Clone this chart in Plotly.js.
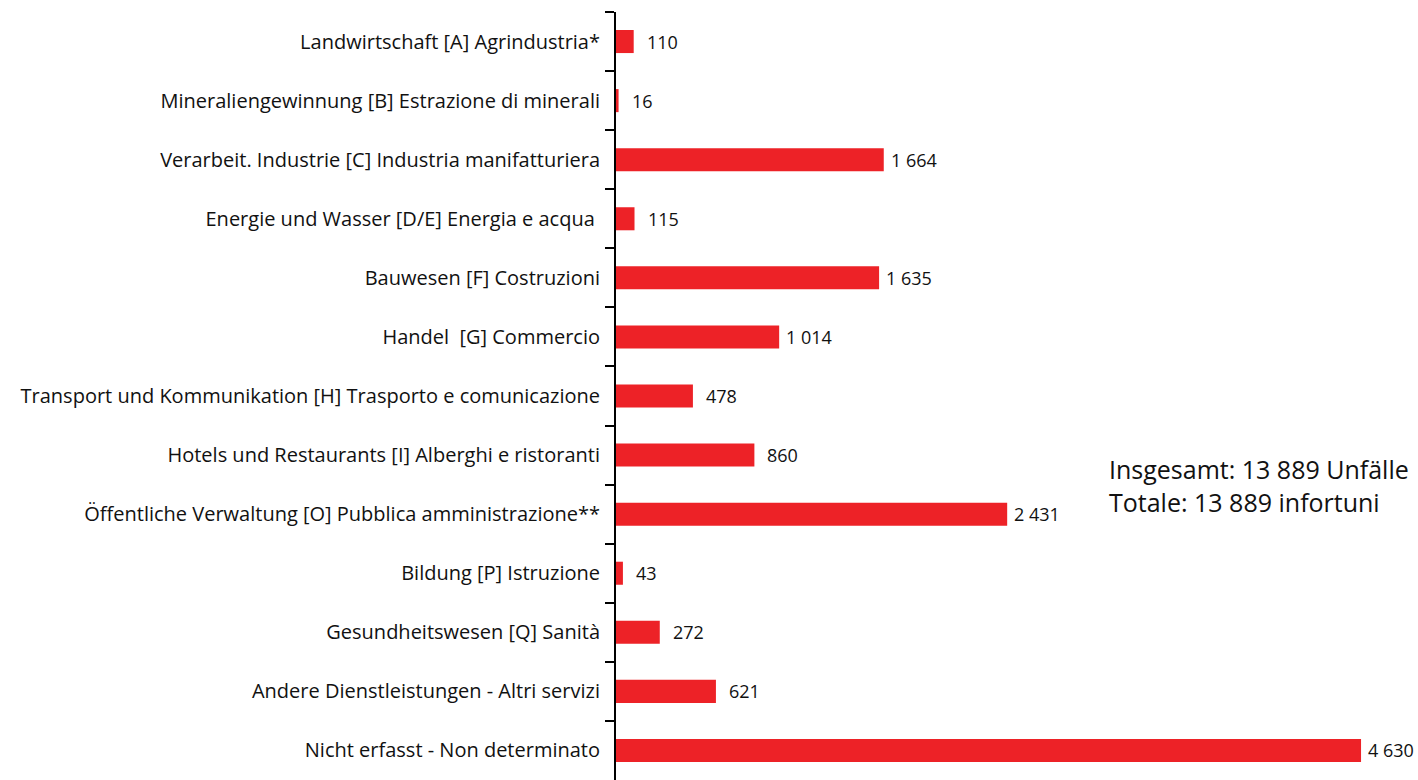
<!DOCTYPE html>
<html>
<head>
<meta charset="utf-8">
<script src="https://cdn.plot.ly/plotly-3.0.1.min.js"></script>
<style>html,body{margin:0;padding:0;background:#fff;}#chart{width:1418px;height:780px;}</style>
</head>
<body>
<div id="chart"></div>
<script>
const categories = [
  "Landwirtschaft [A] Agrindustria*",
  "Mineraliengewinnung [B] Estrazione di minerali",
  "Verarbeit. Industrie [C] Industria manifatturiera",
  "Energie und Wasser [D/E] Energia e acqua ",
  "Bauwesen [F] Costruzioni",
  "Handel  [G] Commercio",
  "Transport und Kommunikation [H] Trasporto e comunicazione",
  "Hotels und Restaurants [I] Alberghi e ristoranti",
  "Öffentliche Verwaltung [O] Pubblica amministrazione**",
  "Bildung [P] Istruzione",
  "Gesundheitswesen [Q] Sanità",
  "Andere Dienstleistungen - Altri servizi",
  "Nicht erfasst - Non determinato"
];
const values = [110, 16, 1664, 115, 1635, 1014, 478, 860, 2431, 43, 272, 621, 4630];
const valueLabels = ["110", "16", "1 664", "115", "1 635", "1 014", "478", "860", "2 431", "43", "272", "621", "4 630"];
const totalText = "Insgesamt: 13 889 Unfälle<br>Totale: 13 889 infortuni";

const FONT = "Open Sans, Noto Sans, sans-serif";

const trace = {
  type: "bar",
  orientation: "h",
  y: categories,
  x: values,
  marker: {color: "#ED2227", line: {width: 0}},
  hoverinfo: "skip"
};

const annotations = values.map((v, i) => ({
  x: v, y: categories[i], xref: "x", yref: "y",
  text: valueLabels[i], showarrow: false,
  xanchor: "left", yanchor: "middle",
  xshift: v >= 1000 ? 5 : 11,
  font: {family: FONT, size: 18, color: "#111"}
}));
annotations.push({
  x: 0.6125, y: 0.383, xref: "paper", yref: "paper",
  text: totalText, showarrow: false, align: "left",
  xanchor: "left", yanchor: "middle",
  font: {family: FONT, size: 25, color: "#111"}
});

const layout = {
  width: 1418, height: 780,
  margin: {l: 616, r: 0, t: 12, b: 0},
  paper_bgcolor: "#fff", plot_bgcolor: "#fff",
  showlegend: false,
  bargap: 0.61,
  font: {family: FONT, color: "#111"},
  xaxis: {range: [0, 4984], showgrid: false, zeroline: false, showline: false,
          showticklabels: false, ticks: "", fixedrange: true},
  yaxis: {autorange: "reversed", type: "category", showgrid: false, zeroline: false,
          showline: true, linecolor: "#000", linewidth: 2,
          ticks: "outside", tickson: "boundaries", ticklen: 9, tickwidth: 2, tickcolor: "#000",
          tickfont: {family: FONT, size: 20, color: "#111"},
          ticklabelstandoff: 10, automargin: false},
  annotations: annotations
};

Plotly.newPlot("chart", [trace], layout, {displayModeBar: false, staticPlot: true});
</script>
</body>
</html>
